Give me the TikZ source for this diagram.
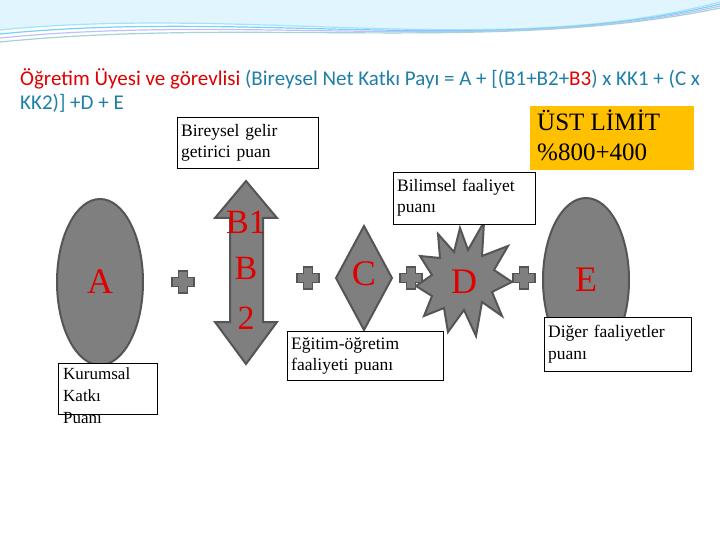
\documentclass[tikz,border=0pt]{standalone}
\usepackage{fontspec}
\setmainfont{Liberation Serif}
\newfontfamily\hdr{Carlito}
\usetikzlibrary{shapes.geometric}
\definecolor{shp}{HTML}{7F7F7F}
\definecolor{shb}{HTML}{555555}
\definecolor{rd}{HTML}{E00000}
\definecolor{tl}{HTML}{1F7FA8}
\definecolor{org}{HTML}{FFC000}
\begin{document}
\begin{tikzpicture}[x=1pt,y=-1pt,
  lbl/.style={draw=black,fill=white,align=left,inner sep=4pt,font=\fontsize{17.5}{21}\selectfont,anchor=north west},
  gshape/.style={fill=shp,draw=shb,line width=2pt},
  big/.style={text=rd,font=\fontsize{36}{38}\selectfont}]
\useasboundingbox (0,0) rectangle (720,540);
\fill[white] (0,0) rectangle (720,540);
% decorative top
\fill[cyan!12] (0,0) -- (720,0) -- (720,2) .. controls (500,60) and (250,5) .. (0,30) -- cycle;
\foreach \o/\c in {0/cyan!35,4/cyan!55,8/blue!25,12/teal!35}{
  \draw[\c,line width=1.2pt] (0,{30+\o}) .. controls (250,{5+\o}) and (500,{60-\o/2}) .. (720,{2+\o/2});}
% header
\node[anchor=north west,align=left,inner sep=0pt,font=\hdr\fontsize{21}{24}\selectfont,text=tl] (hd) at (20,68)
 {\textcolor{rd}{Öğretim Üyesi ve görevlisi} (Bireysel Net Katkı Payı = A + [(B1+B2+\textcolor{rd}{B3}) x KK1 + (C x\\KK2)] +D + E};
% upper limit
\node[fill=org,minimum width=164pt,minimum height=64pt,anchor=north west,inner sep=0pt] (ul) at (530,106) {};
\node[anchor=north west,align=left,inner sep=0pt,font=\fontsize{25}{30}\selectfont] at (537,110) {ÜST LİMİT\\\%800+400};
% A
\node[gshape,ellipse,minimum width=86pt,minimum height=166pt] (A) at (100,282) {};
\node[big] at (A) {A};
\draw[black,fill=white] (58,363) rectangle (157,414);
\node[anchor=north west,align=left,inner sep=0pt,font=\fontsize{17}{22}\selectfont] (kk) at (63,368) {Kurumsal\\Katkı\\Puanı};
% E
\node[gshape,ellipse,minimum width=86pt,minimum height=164pt] (E) at (586,280) {};
\node[big] at (E) {E};
% B double arrow
\draw[gshape] (246,181) -- (277,218) -- (263,218) -- (263,322) -- (277,322) -- (246,364) -- (215,322) -- (230,322) -- (230,218) -- (215,218) -- cycle;
\node[big,font=\fontsize{34}{36}\selectfont] (b1) at (246,222) {B1};
\node[big,font=\fontsize{34}{36}\selectfont] at (246,268) {B};
\node[big,font=\fontsize{34}{36}\selectfont] at (246,318) {2};
% C diamond
\draw[gshape] (364,226) -- (392,278) -- (364,330) -- (336,278) -- cycle;
\node[big] (C) at (364,274) {C};
% D starburst
\draw[gshape] (484,222) -- (482,256) -- (508,246) -- (494,270) -- (512,282) -- (492,292) -- (502,316) -- (482,302)
 -- (476,336) -- (464,310) -- (448,332) -- (444,308) -- (424,316) -- (432,296) -- (416,286) -- (432,275) -- (420,256)
 -- (440,258) -- (438,234) -- (454,252) -- (460,228) -- (468,250) -- cycle;
\node[big] (D) at (464,282) {D};
% plus signs
\foreach \x/\y in {183/282,308/278,411/278,524/278}{
  \draw[gshape,line width=1.5pt] (\x-4.5,\y-11) -- (\x+4.5,\y-11) -- (\x+4.5,\y-4.5) -- (\x+11,\y-4.5) -- (\x+11,\y+4.5) -- (\x+4.5,\y+4.5)
   -- (\x+4.5,\y+11) -- (\x-4.5,\y+11) -- (\x-4.5,\y+4.5) -- (\x-11,\y+4.5) -- (\x-11,\y-4.5) -- (\x-4.5,\y-4.5) -- cycle;}
% labels
\node[lbl,text width=133pt,minimum height=51pt] (bg) at (177,117) {Bireysel gelir\\getirici puan};
\node[lbl,text width=134pt,minimum height=52pt] (bf) at (393,172) {Bilimsel faaliyet\\puanı};
\node[lbl,text width=148pt,minimum height=49pt] (eg) at (287,331) {Eğitim-öğretim\\faaliyeti puanı};
\node[lbl,text width=139pt,minimum height=54pt] (df) at (544,317) {Diğer faaliyetler\\puanı};
\end{tikzpicture}
\end{document}
